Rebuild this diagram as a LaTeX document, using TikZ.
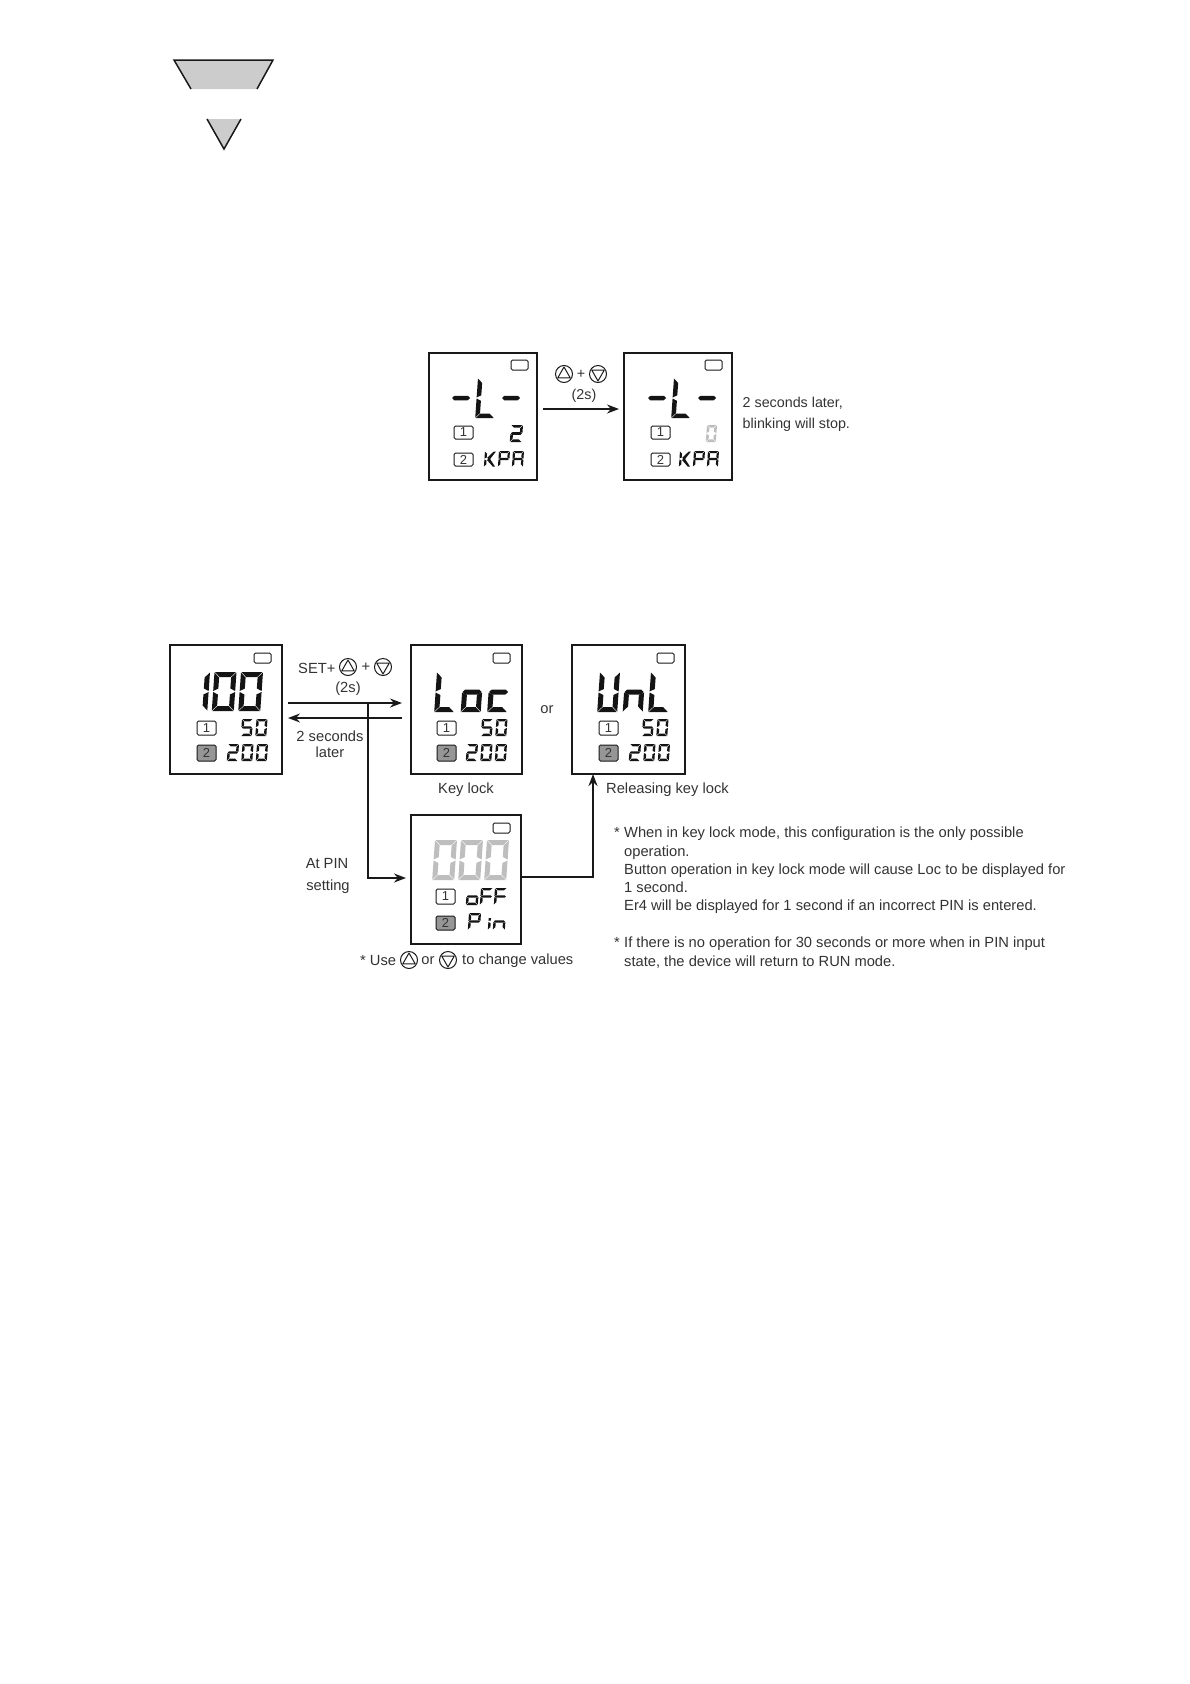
\documentclass[tikz,border=0pt]{standalone}
\usepackage{fontspec}
\setmainfont{Liberation Sans}
\usetikzlibrary{arrows.meta, positioning}
\definecolor{txtGris}{RGB}{51,51,51}
\definecolor{lineaNegra}{RGB}{25,25,25}
\definecolor{segGris}{RGB}{190,190,190}
\definecolor{selGris}{RGB}{150,150,150}
\definecolor{cunaGris}{RGB}{204,204,204}
\tikzset{
  lcd/panel/.style={rectangle, draw=lineaNegra, fill=white, line width=1.5pt,
    outer sep=0pt, inner sep=0pt, anchor=north west},
  lcd/ind/.style={rectangle, rounded corners=1.5pt, draw=lineaNegra, line width=1pt,
    minimum width=17pt, minimum height=10pt, inner sep=0pt, outer sep=0pt, anchor=north west},
  lcd/sel/.style={rectangle, rounded corners=1.5pt, draw=lineaNegra, line width=1pt,
    minimum width=19pt, minimum height=14pt, inner sep=0pt, outer sep=0pt, anchor=north west,
    font=\fontsize{13}{13}\selectfont, text=txtGris},
  lcd/cur/.style={lcd/sel, fill=selGris},
  lcd/on/.style={color=black!92},
  lcd/dim/.style={color=segGris},
  fc/arr/.style={-{Stealth[length=12pt,width=9pt]}, line width=1.4pt, draw=lineaNegra},
  fc/arrb/.style={-{Stealth[length=12pt,width=9pt]}, line width=2pt, draw=lineaNegra},
  fc/lbl/.style={font=\fontsize{14.7}{18.2}\selectfont, text=txtGris, inner sep=0pt, align=center},
  fc/lbl1/.style={fc/lbl, font=\fontsize{14.3}{18.2}\selectfont},
  fc/note/.style={fc/lbl, align=left, anchor=north west},
  fc/wedge/.style={fill=cunaGris, draw=none},
  pics/btnup/.style={code={
    \draw[lineaNegra, line width=1pt] (0,0) circle (8.5);
    \draw[lineaNegra, line width=1pt, line join=round] (0,-7) -- (6.2,3.8) -- (-6.2,3.8) -- cycle;}},
  pics/btndn/.style={code={
    \draw[lineaNegra, line width=1pt] (0,0) circle (8.5);
    \draw[lineaNegra, line width=1pt, line join=round] (0,7) -- (6.2,-3.8) -- (-6.2,-3.8) -- cycle;}}
}
% segments of one LCD cell
\newcommand{\lcdsega}{\fill (\lg,0) -- ({\lw-\lg},0) -- ({\lw-\lg-\lt},\lt) -- ({\lg+\lt},\lt) -- cycle;}
\newcommand{\lcdsegb}{\fill (\lw,\lg) -- (\lw,{\lm-\lg}) -- ({\lw-\lt},{\lm-\lg-\lt/2}) -- ({\lw-\lt},{\lg+\lt}) -- cycle;}
\newcommand{\lcdsegc}{\fill (\lw,{\lm+\lg}) -- (\lw,{\lh-\lg}) -- ({\lw-\lt},{\lh-\lg-\lt}) -- ({\lw-\lt},{\lm+\lg+\lt/2}) -- cycle;}
\newcommand{\lcdsegd}{\fill (\lg,\lh) -- ({\lw-\lg},\lh) -- ({\lw-\lg-\lt},{\lh-\lt}) -- ({\lg+\lt},{\lh-\lt}) -- cycle;}
\newcommand{\lcdsege}{\fill (0,{\lm+\lg}) -- (0,{\lh-\lg}) -- (\lt,{\lh-\lg-\lt}) -- (\lt,{\lm+\lg+\lt/2}) -- cycle;}
\newcommand{\lcdsegf}{\fill (0,\lg) -- (0,{\lm-\lg}) -- (\lt,{\lm-\lg-\lt/2}) -- (\lt,{\lg+\lt}) -- cycle;}
\newcommand{\lcdsegg}{\fill (\lg,\lm) -- ({\lg+\lt/2},{\lm-\lt/2}) -- ({\lw-\lg-\lt/2},{\lm-\lt/2}) -- ({\lw-\lg},\lm) -- ({\lw-\lg-\lt/2},{\lm+\lt/2}) -- ({\lg+\lt/2},{\lm+\lt/2}) -- cycle;}
\newcommand{\lcdsegk}{\fill ({\lt+\lg},{\lm-\lt/2}) -- ({\lw-\lt},\lg) -- (\lw,\lg) -- ({\lt+\lg+\lt},{\lm+\lt/2}) -- cycle;}
\newcommand{\lcdsegm}{\fill ({\lt+\lg},{\lm+\lt/2}) -- ({\lw-\lt},{\lh-\lg}) -- (\lw,{\lh-\lg}) -- ({\lt+\lg+\lt},{\lm-\lt/2}) -- cycle;}
\newcommand{\lcdsegj}{\fill (0,{\lm-3.5}) -- (0,{\lm-1}) -- (\lt,{\lm-1}) -- (\lt,{\lm-3.5}) -- cycle;}
\newcommand{\lcddef}[2]{\expandafter\def\csname lcdgl#1\endcsname{#2}}
\lcddef{0}{a,b,c,d,e,f}
\lcddef{1}{b,c}
\lcddef{2}{a,b,g,e,d}
\lcddef{5}{a,f,g,c,d}
\lcddef{-}{g}
\lcddef{L}{d,e,f}
\lcddef{o}{c,d,e,g}
\lcddef{c}{d,e,g}
\lcddef{U}{b,c,d,e,f}
\lcddef{n}{c,e,g}
\lcddef{K}{e,f,k,m}
\lcddef{P}{a,b,e,f,g}
\lcddef{R}{a,b,c,e,f,g}
\lcddef{F}{a,e,f,g}
\lcddef{i}{e,j}
% \lcdword[style]{x}{y}{w}{h}{thick}{pitch}{glyphs}
\newcommand{\lcdword}[8][lcd/on]{%
  \foreach \lcdc [count=\lcdi from 0] in {#8}{%
    \begin{scope}[#1, shift={({#2+\lcdi*#7},#3)}, xslant=0.07]
      \def\lw{#4}\def\lh{#5}\def\lt{#6}\def\lg{0.5}\pgfmathsetmacro{\lm}{#5/2}
      \edef\lcdsegs{\csname lcdgl\lcdc\endcsname}
      \foreach \lcds in \lcdsegs {\csname lcdseg\lcds\endcsname}
    \end{scope}}}

\begin{document}
\begin{tikzpicture}[x=1pt, y=-1pt, node distance=6pt and 8pt]
  \useasboundingbox (0,0) rectangle (1190,1684);

  % top wedges
  \path[fc/wedge] (174,60) -- (273,60) -- (257,89) -- (191,89) -- cycle;
  \draw[lineaNegra, line width=1.5pt] (191,89) -- (174,60) -- (273,60) -- (257,89);
  \path[fc/wedge] (207,119) -- (241,119) -- (224,149) -- cycle;
  \draw[lineaNegra, line width=1.5pt] (207,119) -- (224,149) -- (241,119);

  % panels, first row
  \node[lcd/panel, minimum width=108pt, minimum height=127pt] (pa) at (429,353) {};
  \node[lcd/panel, minimum width=108pt, minimum height=127pt, right=87pt of pa, anchor=west] (pb) {};
  % panels, second row
  \node[lcd/panel, minimum width=112pt, minimum height=129pt] (pc) at (170,645) {};
  \node[lcd/panel, minimum width=111pt, minimum height=129pt, right=129pt of pc, anchor=west] (pd) {};
  \node[lcd/panel, minimum width=113pt, minimum height=129pt, right=50pt of pd, anchor=west] (pe) {};
  \node[lcd/panel, minimum width=110pt, minimum height=129pt] (pf) at (411,815) {};

  \begin{scope}[shift={(pa.north west)}]
    \node[lcd/ind] (pai) at (82,7) {};
    \node[lcd/sel, minimum height=13pt] (pa1) at (25,73) {1};
    \node[lcd/sel, minimum height=13pt] (pa2) at (25,100) {2};
    \lcdword{24}{25}{19}{40}{4.5}{25}{-,L,-}
    \lcdword{82}{72}{12}{17}{2.6}{14}{2}
    \lcdword{56}{98}{11}{16}{2.2}{14}{K,P,R}
  \end{scope}
  \begin{scope}[shift={(pb.north west)}]
    \node[lcd/ind] (pbi) at (81,7) {};
    \node[lcd/sel, minimum height=13pt] (pb1) at (27,73) {1};
    \node[lcd/sel, minimum height=13pt] (pb2) at (27,100) {2};
    \lcdword{25}{25}{19}{40}{4.5}{25}{-,L,-}
    \lcdword[lcd/dim]{83}{72}{10}{17}{2.6}{14}{0}
    \lcdword{56}{98}{11}{16}{2.2}{14}{K,P,R}
  \end{scope}
  \begin{scope}[shift={(pc.north west)}]
    \node[lcd/ind] (pci) at (84,8) {};
    \node[lcd/sel] (pc1) at (27,76) {1};
    \node[lcd/cur, minimum height=16pt] (pc2) at (27,100) {2};
    \lcdword{18}{27}{22}{39}{5}{26.5}{1,0,0}
    \lcdword{72}{74}{11}{17}{2.4}{14.5}{5,0}
    \lcdword{58}{99}{11}{17}{2.4}{14.5}{2,0,0}
  \end{scope}
  \begin{scope}[shift={(pd.north west)}]
    \node[lcd/ind] (pdi) at (82,8) {};
    \node[lcd/sel] (pd1) at (26,76) {1};
    \node[lcd/cur, minimum height=16pt] (pd2) at (26,100) {2};
    \lcdword{26}{27}{20}{40}{5}{26.5}{L,o,c}
    \lcdword{71}{74}{11}{17}{2.4}{14.5}{5,0}
    \lcdword{56}{99}{11}{17}{2.4}{14.5}{2,0,0}
  \end{scope}
  \begin{scope}[shift={(pe.north west)}]
    \node[lcd/ind] (pei) at (85,8) {};
    \node[lcd/sel] (pe1) at (27,76) {1};
    \node[lcd/cur, minimum height=16pt] (pe2) at (27,100) {2};
    \lcdword{28}{27}{20}{40}{5}{25.5}{U,n,L}
    \lcdword{71}{74}{11}{17}{2.4}{14.5}{5,0}
    \lcdword{58}{99}{11}{17}{2.4}{14.5}{2,0,0}
  \end{scope}
  \begin{scope}[shift={(pf.north west)}]
    \node[lcd/ind] (pfi) at (82,8) {};
    \node[lcd/sel, minimum height=15pt] (pf1) at (25,74) {1};
    \node[lcd/cur, minimum height=14pt] (pf2) at (25,101) {2};
    \lcdword[lcd/dim]{24}{25}{22}{40}{5}{26}{0,0,0}
    \lcdword{56}{73}{12}{17}{2.4}{14}{o,F,F}
    \lcdword{58}{98}{12}{17}{2.4}{14}{P}
    \lcdword{78}{98}{12}{17}{2.4}{5}{i,n}
  \end{scope}

  % connectors
  \draw[fc/arr] ([xshift=6pt,yshift=7.5pt]pa.east) -- ([xshift=-5pt,yshift=7.5pt]pb.west);
  \draw[fc/arr] ([xshift=6pt,yshift=6.5pt]pc.east) -- ([xshift=-9pt,yshift=6.5pt]pd.west);
  \draw[fc/arr] ([xshift=-9pt,yshift=-8.5pt]pd.west) -- ([xshift=6pt,yshift=-8.5pt]pc.east);
  \coordinate (junc) at (368,703);
  \draw[fc/arrb] (junc) |- ([xshift=-5pt,yshift=1.5pt]pf.west);
  \draw[fc/arrb] ([yshift=2.5pt]pf.east) -| ([xshift=21pt]pe.south west);

  % texts of first row
  \pic (kup) at (564,374) {btnup};
  \node[fc/lbl1] (kplus) at (581,374) {+};
  \pic (kdn) at (598,374) {btndn};
  \node[fc/lbl1] (ktime) at (584,396) {(2s)};
  \node[fc/lbl1, anchor=west] (kstop) at (742.5,403) {2 seconds later,};
  \node[fc/lbl1, anchor=west] (kstop2) at (742.5,425) {blinking will stop.};

  % texts of second row
  \node[fc/lbl, anchor=west] (lset) at (298,668) {SET+};
  \pic (lup) at (348,667) {btnup};
  \node[fc/lbl] (lplus) at (366,667) {+};
  \pic (ldn) at (383,667) {btndn};
  \node[fc/lbl] (ltime) at (348,689) {(2s)};
  \node[fc/lbl, font=\fontsize{14.7}{16}\selectfont] (llater) at (330,744) {2 seconds\\later};
  \node[fc/lbl] (lor) at (547,710) {or};
  \node[fc/lbl] (lkey) at (466,790) {Key lock};
  \node[fc/lbl, anchor=west] (lrel) at (606,790) {Releasing key lock};
  \node[fc/lbl] (lpin) at (327,863) {At PIN};
  \node[fc/lbl] (lpin2) at (328,887) {setting};
  \node[fc/lbl, anchor=west] (luse) at (360,961) {* Use};
  \pic (uup) at (409,960) {btnup};
  \node[fc/lbl] (uor) at (428,961) {or};
  \pic (udn) at (448,960) {btndn};
  \node[fc/lbl, anchor=west] (uto) at (462,961) {to change values};

  \node[fc/note] (nota1) at (624,827) {\llap{*\hspace{4.3pt}}When in key lock mode, this configuration is the only possible\\
    operation.\\
    Button operation in key lock mode will cause Loc to be displayed for\\
    1 second.\\
    Er4 will be displayed for 1 second if an incorrect PIN is entered.};
  \node[fc/note] (nota2) at (624,937) {\llap{*\hspace{4.3pt}}If there is no operation for 30 seconds or more when in PIN input\\
    state, the device will return to RUN mode.};
\end{tikzpicture}
\end{document}
